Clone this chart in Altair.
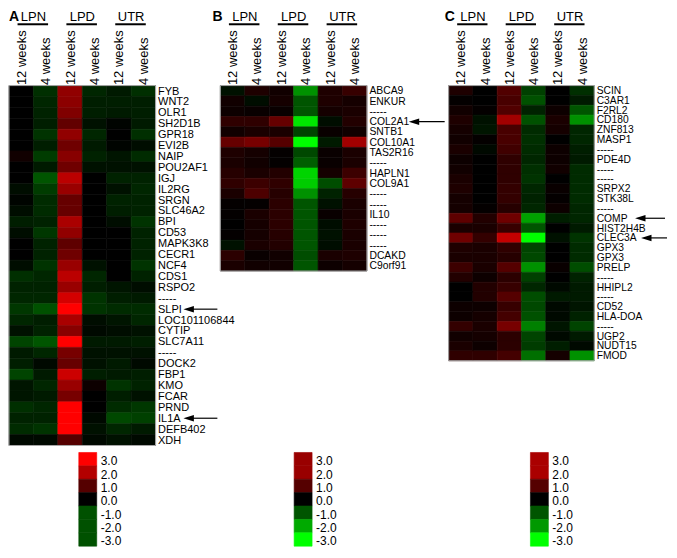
import altair as alt
import pandas as pd

FONT = "Liberation Sans"
COLS = ["12 weeks", "4 weeks", "12 weeks", "4 weeks", "12 weeks", "4 weeks"]
GROUPS = ["LPN", "LPD", "UTR"]
LEG_LABELS = ["3.0", "2.0", "1.0", "0.0", "-1.0", "-2.0", "-3.0"]

A_genes = ["FYB", "WNT2", "OLR1", "SH2D1B", "GPR18", "EVI2B", "NAIP", "POU2AF1", "IGJ", "IL2RG",
           "SRGN", "SLC46A2", "BPI", "CD53", "MAPK3K8", "CECR1", "NCF4", "CDS1", "RSPO2", "-----",
           "SLPI", "LOC101106844", "CYTIP", "SLC7A11", "-----", "DOCK2", "FBP1", "KMO", "FCAR",
           "PRND", "IL1A", "DEFB402", "XDH"]
A_vals = [
    [0, -0.55, 1.7, -0.45, -0.3, -0.55],
    [0, -0.45, 1.65, -0.35, -0.35, -0.35],
    [0, -0.4, 1.5, -0.35, -0.3, -0.35],
    [0, -0.35, 1.15, -0.2, -0.05, -0.3],
    [0, -0.6, 1.7, -0.45, 0, -0.55],
    [0, -0.35, 1.3, -0.3, -0.05, -0.15],
    [0.2, -0.7, 1.6, -0.4, -0.25, -0.5],
    [0, -0.3, 1.3, -0.2, -0.2, -0.2],
    [0, -1.0, 2.2, 0, -0.4, -0.4],
    [-0.15, -0.7, 1.8, 0, -0.2, -0.45],
    [-0.05, -0.5, 1.2, 0, -0.4, -0.4],
    [-0.15, -0.5, 1.2, 0, -0.35, -0.4],
    [-0.35, -0.4, 2.0, 0, -0.15, -0.6],
    [-0.15, -0.65, 1.7, 0, 0, -0.4],
    [0, -0.4, 1.1, 0, 0, -0.4],
    [0, -0.4, 1.3, 0, 0, -0.4],
    [-0.15, -0.6, 1.8, -0.2, 0, -0.6],
    [-0.55, -0.45, 2.2, -0.45, 0, -0.4],
    [-0.4, -0.4, 1.8, -0.35, -0.25, -0.15],
    [-0.45, -0.45, 2.5, -0.6, -0.35, -0.3],
    [-0.65, -0.95, 3.0, -0.6, -0.5, -0.5],
    [-0.45, -0.35, 2.0, -0.15, -0.25, -0.45],
    [-0.2, -0.4, 1.6, -0.1, -0.15, -0.2],
    [-0.8, -1.0, 3.0, -0.3, -0.3, -0.35],
    [-0.3, -0.45, 1.4, -0.2, -0.2, -0.2],
    [-0.35, -0.1, 1.2, -0.2, -0.3, -0.1],
    [-0.8, -0.3, 2.4, -0.35, -0.3, -0.35],
    [-0.25, -0.45, 1.8, 0.15, -0.6, -0.4],
    [-0.25, -0.3, 1.4, 0, -0.35, -0.2],
    [-0.55, -0.45, 3.0, 0, -0.5, -0.65],
    [-0.4, -0.4, 3.0, -0.1, -0.85, -0.75],
    [-0.5, -0.6, 3.0, -0.2, -0.45, -0.3],
    [-0.1, -0.1, 1.0, -0.1, -0.2, -0.1],
]

B_genes = ["ABCA9", "ENKUR", "-----", "COL2A1", "SNTB1", "COL10A1", "TAS2R16", "-----", "HAPLN1",
           "COL9A1", "-----", "-----", "IL10", "-----", "-----", "-----", "DCAKD", "C9orf91"]
B_vals = [
    [-0.2, 0.35, 0.2, -1.7, 0.35, 0.65],
    [0.2, -0.15, 0.25, -1.0, 0.35, 0.25],
    [0.15, 0.1, 0.1, -1.0, 0.25, 0.3],
    [0.55, 0.55, 1.2, -2.7, -0.15, 0.4],
    [0.2, 0.3, 0.3, -0.8, 0.1, 0.2],
    [1.2, 1.4, 1.0, -3.0, -0.3, 1.9],
    [0.35, 0.25, 0.05, -0.85, 0.1, 0.3],
    [0.3, 0.2, 0.05, -1.1, 0.1, 0.3],
    [0.45, 0.3, 0.4, -2.5, 0.25, 0.7],
    [0.55, 0.7, 0.55, -2.4, -0.9, 1.1],
    [0.3, 0.9, 0.45, -1.7, -0.4, 0.45],
    [0.05, 0.05, 0.5, -1.0, -0.2, 0.3],
    [0.05, 0.3, 0.5, -1.0, 0.1, 0.3],
    [0, 0.25, 0.5, -1.0, -0.15, 0.35],
    [0.05, 0.25, 0.45, -1.0, -0.2, 0.3],
    [-0.2, 0.3, 0.4, -1.0, -0.15, 0.3],
    [0.5, 0.1, 0.2, -0.9, 0.3, 0.35],
    [0.3, 0.2, 0.2, -1.0, 0.15, 0.25],
]

C_genes = ["SCIN", "C3AR1", "F2RL2", "CD180", "ZNF813", "MASP1", "-----", "PDE4D", "-----", "-----",
           "SRPX2", "STK38L", "-----", "COMP", "HIST2H4B", "CLEC3A", "GPX3", "GPX3", "PRELP", "-----",
           "HHIPL2", "-----", "CD52", "HLA-DOA", "-----", "UGP2", "NUDT15", "FMOD"]
C_vals = [
    [0.35, 0, 0.95, -0.75, 0, -0.55],
    [0.05, 0, 0.85, -0.95, 0, -0.3],
    [0.2, 0.05, 0.95, -0.4, 0.15, -1.0],
    [0.35, -0.2, 1.9, -0.95, 0.3, -1.7],
    [0.25, -0.25, 0.85, -0.5, 0.25, -0.45],
    [0.2, 0.05, 0.85, -0.55, 0, -0.45],
    [0.3, -0.1, 0.75, -0.5, 0.15, -0.35],
    [0.15, 0, 0.55, -0.45, 0.15, -0.3],
    [0.2, 0, 0.55, -0.55, 0.2, -0.5],
    [0.3, 0, 0.55, -0.6, 0, -0.5],
    [0.35, 0, 0.6, -0.45, 0.1, -0.5],
    [0.25, 0, 0.6, -0.4, 0.05, -0.5],
    [0.25, 0.05, 0.45, -0.45, 0.15, -0.45],
    [1.1, 0.4, 1.3, -1.9, -0.35, -0.45],
    [0.3, 0.3, 0.65, -1.0, 0, -0.3],
    [1.3, 0.6, 2.3, -3.0, -0.2, -0.6],
    [0.35, 0.3, 0.55, -0.8, 0, -0.5],
    [0.3, 0.3, 0.45, -0.85, 0, -0.5],
    [0.7, 0.3, 1.0, -1.7, 0.1, -0.9],
    [0.4, 0.15, 0.5, -0.75, 0, -0.4],
    [0, 0.4, 0.65, -0.45, -0.1, -0.3],
    [0, 0.4, 1.0, -0.9, -0.3, -0.3],
    [0.15, 0.15, 0.65, -0.85, -0.1, -0.25],
    [0.15, 0.25, 0.8, -0.95, -0.1, -0.4],
    [0.6, 0.3, 1.4, -1.5, -0.25, -0.8],
    [0.2, 0.25, 0.5, -0.8, -0.1, -0.3],
    [0.3, 0.15, 0.5, -0.7, -0.35, -0.1],
    [0.55, 0.55, 0.8, -1.3, 0.25, -1.7],
]

# legend swatch values for each panel (same colour scale)
A_leg = [3.0, 2.1, 1.0, 0.0, -0.95, -0.95, -0.95]
B_leg = [1.8, 1.8, 1.0, 0.0, -1.0, -2.0, -3.0]
C_leg = [2.0, 2.0, 1.0, 0.0, -1.0, -1.8, -3.0]

A_arrows = ["SLPI", "IL1A"]
B_arrows = ["COL2A1"]
C_arrows = ["COMP", "CLEC3A"]

color_scale = alt.Scale(domain=[-3, 0, 3], range=["#00ff00", "#000000", "#ff0000"],
                        interpolate="rgb", clamp=True)

TOTAL_H = 462      # heat map area + colour key below it
LEG_TOP = 368      # top of the colour key inside each panel


def js_list(items):
    return "[" + ",".join("'" + s + "'" for s in items) + "]"


def panel(letter, genes, vals, width, height, arrow_genes, arrow_px, letter_x,
          leg_vals, leg_x, label_size):
    n = len(genes)
    recs = []
    for r, rv in enumerate(vals):
        for c, v in enumerate(rv):
            recs.append({"row": r, "row2": r + 1, "col": c, "col2": c + 1, "v": v})
    df = pd.DataFrame(recs)

    xs = alt.Scale(domain=[0, 6], nice=False, zero=False)
    ys = alt.Scale(domain=[0, n], range=[0, height], nice=False, zero=False)

    xaxis = alt.Axis(
        orient="top", values=[c + 0.5 for c in range(6)],
        labelExpr=js_list(COLS) + "[floor(datum.value)]", labelAngle=270,
        labelAlign="left", labelBaseline="middle", labelPadding=1, ticks=False,
        domain=False, grid=False, title=None, labelFontSize=13, labelColor="black",
        labelOverlap=False, labelFlush=False)
    yaxis = alt.Axis(
        orient="right", values=[r + 0.5 for r in range(n)],
        labelExpr=js_list(genes) + "[floor(datum.value)]", ticks=False, domain=False,
        grid=False, title=None, labelPadding=2, labelFontSize=label_size,
        labelColor="black", labelOverlap=False, labelFlush=False, labelAlign="left",
        labelBaseline="middle", labelLimit=200)

    rect = alt.Chart(df).mark_rect(strokeWidth=0.6).encode(
        x=alt.X("col:Q", scale=xs, axis=xaxis), x2="col2:Q",
        y=alt.Y("row:Q", scale=ys, axis=yaxis), y2="row2:Q",
        color=alt.Color("v:Q", scale=color_scale, legend=None),
        stroke=alt.Stroke("v:Q", scale=color_scale, legend=None),
    )
    frame = alt.Chart(pd.DataFrame({"col": [0], "col2": [6], "row": [0], "row2": [n]})).mark_rect(
        filled=False, stroke="#a8a8a8", strokeWidth=1).encode(
        x=alt.X("col:Q", scale=xs, axis=xaxis), x2="col2:Q",
        y=alt.Y("row:Q", scale=ys, axis=yaxis), y2="row2:Q")

    hdf = pd.DataFrame({"g": GROUPS, "col": [2 * i + 1 for i in range(3)],
                        "xa": [2 * i + 0.35 for i in range(3)],
                        "xb": [2 * i + 1.6 for i in range(3)]})
    htext = alt.Chart(hdf).mark_text(fontSize=13, baseline="top", color="black").encode(
        x=alt.X("col:Q", scale=xs, axis=xaxis), y=alt.value(-75), text="g:N")
    hrule = alt.Chart(hdf).mark_rule(strokeWidth=2, color="black").encode(
        x=alt.X("xa:Q", scale=xs, axis=xaxis), x2="xb:Q", y=alt.value(-61.5))
    ltext = alt.Chart(pd.DataFrame({"t": [letter]})).mark_text(
        fontSize=14, fontWeight="bold", align="left", baseline="top", color="black").encode(
        x=alt.value(letter_x), y=alt.value(-76), text="t:N")

    layers = [rect, frame, hrule, htext, ltext]
    for g, (tip, tail) in zip(arrow_genes, arrow_px):
        adf = pd.DataFrame({"row": [genes.index(g) + 0.5]})
        layers.append(alt.Chart(adf).mark_rule(strokeWidth=1.2, color="black").encode(
            x=alt.value(tip + 4), x2=alt.value(tail),
            y=alt.Y("row:Q", scale=ys, axis=yaxis)))
        layers.append(alt.Chart(adf).mark_point(
            shape="M -1 0 L 1 -0.62 L 1 0.62 Z", filled=True, color="black", opacity=1,
            size=110, strokeWidth=0).encode(
            x=alt.value(tip + 5.2), y=alt.Y("row:Q", scale=ys, axis=yaxis)))
    heat = alt.layer(*layers)

    # colour key under the heat map
    ldf = pd.DataFrame({"lab": LEG_LABELS, "v": leg_vals})
    lys = alt.Scale(domain=LEG_LABELS, range=[LEG_TOP, TOTAL_H], paddingInner=0, paddingOuter=0)
    key = alt.Chart(ldf).mark_rect(strokeWidth=0.6).encode(
        x=alt.value(leg_x), x2=alt.value(leg_x + 18),
        y=alt.Y("lab:N", sort=LEG_LABELS, scale=lys, axis=None),
        color=alt.Color("v:Q", scale=color_scale, legend=None),
        stroke=alt.Stroke("v:Q", scale=color_scale, legend=None),
    )
    keytext = alt.Chart(ldf).mark_text(
        align="left", baseline="middle", fontSize=12, dy=2, color="black").encode(
        x=alt.value(leg_x + 22),
        y=alt.Y("lab:N", sort=LEG_LABELS, scale=lys, axis=None),
        text="lab:N")
    legend = alt.layer(key, keytext)

    return alt.layer(heat, legend).resolve_scale(y="independent").properties(
        width=width, height=TOTAL_H)


def spacer(w):
    return alt.Chart(pd.DataFrame({"z": [0]})).mark_text().encode(
        x=alt.value(0), y=alt.value(0), text=alt.value("")).properties(
        width=w, height=TOTAL_H)


pA = panel("A", A_genes, A_vals, 147, 361, A_arrows, [(175, 209)] * 2, 0, A_leg, 70, 11)
pB = panel("B", B_genes, B_vals, 147, 186, B_arrows, [(189, 225)], -8, B_leg, 74, 10.4)
pC = panel("C", C_genes, C_vals, 146, 276, C_arrows, [(187, 217), (193, 219)], -4, C_leg, 82, 10.3)

chart = alt.hconcat(pA, spacer(65), pB, spacer(82), pC, spacing=0, bounds="flush").properties(
    padding=0
).configure(font=FONT).configure_view(stroke="transparent")

chart.save("out.html", embed_options={"renderer": "svg", "actions": False})
